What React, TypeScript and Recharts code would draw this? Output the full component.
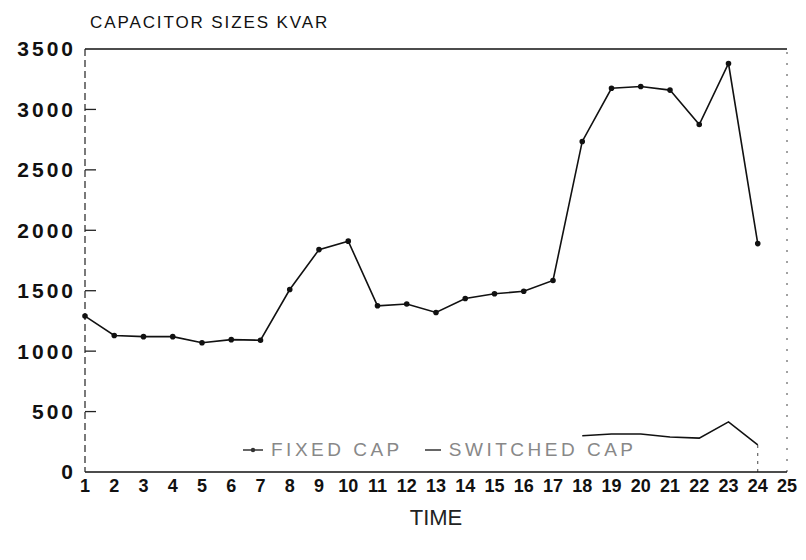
import React from 'react';
import {
    LineChart,
    Line,
    XAxis,
    YAxis,
    Legend,
    ReferenceLine,
} from 'recharts';

// hours of the day (1..24), axis runs to 25
const hours = [1, 2, 3, 4, 5, 6, 7, 8, 9, 10, 11, 12, 13, 14, 15, 16, 17, 18, 19, 20, 21, 22, 23, 24];
const fixedCap = [
    1290, 1130, 1120, 1120, 1070, 1095, 1090, 1510, 1840, 1910, 1375, 1390,
    1320, 1435, 1475, 1495, 1585, 2735, 3175, 3190, 3160, 2875, 3380, 1890,
];
// switched capacitor is only in service from hour 18 on
const switchedCap: (number | null)[] = [
    null, null, null, null, null, null, null, null, null, null, null, null,
    null, null, null, null, null, 300, 315, 315, 290, 280, 415, 225,
];
const xTicks = [1, 2, 3, 4, 5, 6, 7, 8, 9, 10, 11, 12, 13, 14, 15, 16, 17, 18, 19, 20, 21, 22, 23, 24, 25];
const yTicks = [0, 500, 1000, 1500, 2000, 2500, 3000, 3500];

const chartData = hours.map((h, i) => ({
    time: h,
    fixed: fixedCap[i],
    switched: switchedCap[i],
}));

const FONT = "'Liberation Sans', Arial, sans-serif";

const renderLegend = () => (
    <div
        style={{
            display: 'flex',
            alignItems: 'center',
            fontFamily: FONT,
            fontSize: 19,
            letterSpacing: 3.5,
            color: '#888',
            whiteSpace: 'nowrap',
        }}
    >
        <svg width={22} height={10} style={{ marginRight: 6 }}>
            <line x1={0} x2={20} y1={5} y2={5} stroke="#333" strokeWidth={1.5} />
            <circle cx={10} cy={5} r={2.2} fill="#333" />
        </svg>
        <span style={{ marginRight: 22 }}>FIXED CAP</span>
        <svg width={18} height={10} style={{ marginRight: 6 }}>
            <line x1={0} x2={16} y1={5} y2={5} stroke="#333" strokeWidth={1.5} />
        </svg>
        <span>SWITCHED CAP</span>
    </div>
);

export default function App() {
    return (
        <div style={{ position: 'relative', width: 790, height: 545 }}>
            <div
                style={{
                    position: 'absolute',
                    left: 82,
                    top: 5,
                    fontFamily: FONT,
                    fontSize: 17,
                    letterSpacing: 1.9,
                    color: '#111',
                    whiteSpace: 'nowrap',
                }}
            >
                CAPACITOR SIZES KVAR
            </div>
            <LineChart
                width={790}
                height={545}
                data={chartData}
                margin={{ top: 41, right: 11, left: 0, bottom: 21 }}
            >
                <XAxis
                    dataKey="time"
                    type="number"
                    domain={[1, 25]}
                    ticks={xTicks}
                    interval={0}
                    tickLine={false}
                    tickSize={0}
                    tickMargin={7}
                    height={60}
                    axisLine={{ stroke: '#111', strokeWidth: 1.4 }}
                    tick={{
                        fill: '#111',
                        fontSize: 18,
                        fontWeight: 'bold',
                        fontFamily: FONT,
                    }}
                    label={{
                        value: 'TIME',
                        position: 'insideBottom',
                        offset: 7,
                        fill: '#222',
                        fontSize: 22,
                        fontFamily: FONT,
                    }}
                />
                <YAxis
                    domain={[0, 3500]}
                    ticks={yTicks}
                    width={77}
                    tickLine={false}
                    tickSize={0}
                    tickMargin={9}
                    axisLine={{ stroke: '#222', strokeWidth: 1.2, strokeDasharray: '7 4' }}
                    tick={{
                        fill: '#111',
                        fontSize: 21,
                        fontWeight: 'bold',
                        letterSpacing: 3,
                        fontFamily: FONT,
                    }}
                />
                {/* inward tick marks: only the first dash of each line is drawn */}
                <ReferenceLine y={500} stroke="#222" strokeWidth={1.3} strokeDasharray="11 2000" />
                <ReferenceLine y={1000} stroke="#222" strokeWidth={1.3} strokeDasharray="11 2000" />
                <ReferenceLine y={1500} stroke="#222" strokeWidth={1.3} strokeDasharray="11 2000" />
                <ReferenceLine y={2000} stroke="#222" strokeWidth={1.3} strokeDasharray="11 2000" />
                <ReferenceLine y={2500} stroke="#222" strokeWidth={1.3} strokeDasharray="11 2000" />
                <ReferenceLine y={3000} stroke="#222" strokeWidth={1.3} strokeDasharray="11 2000" />
                <ReferenceLine y={3500} stroke="#111" strokeWidth={1.4} />
                <ReferenceLine x={25} stroke="#444" strokeDasharray="2 9" />
                <ReferenceLine
                    segment={[
                        { x: 24, y: 0 },
                        { x: 24, y: switchedCap[23] as number },
                    ]}
                    stroke="#444"
                    strokeDasharray="3 5"
                />
                <Legend
                    verticalAlign="middle"
                    content={renderLegend}
                    wrapperStyle={{ position: 'absolute', top: 431, left: 235, width: 'auto' }}
                />
                <Line
                    type="linear"
                    dataKey="fixed"
                    name="FIXED CAP"
                    stroke="#111"
                    strokeWidth={1.6}
                    dot={{ r: 2, fill: '#111', stroke: '#111' }}
                    isAnimationActive={false}
                />
                <Line
                    type="linear"
                    dataKey="switched"
                    name="SWITCHED CAP"
                    stroke="#111"
                    strokeWidth={1.6}
                    dot={false}
                    connectNulls={false}
                    isAnimationActive={false}
                />
            </LineChart>
        </div>
    );
}
